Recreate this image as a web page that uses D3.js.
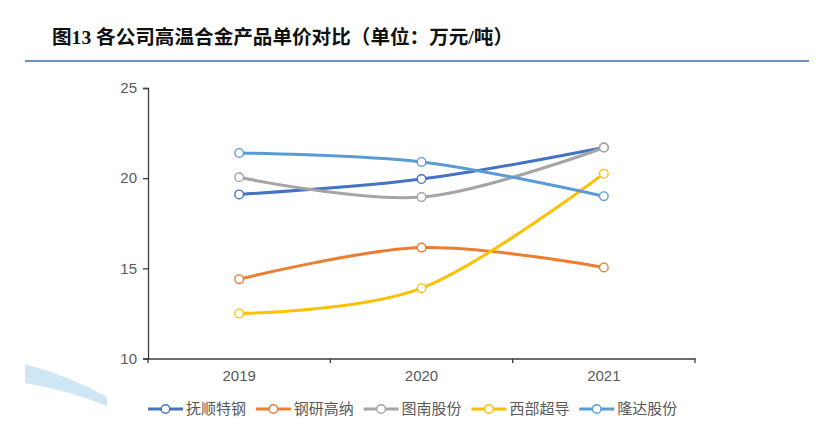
<!DOCTYPE html>
<html>
<head>
<meta charset="utf-8">
<script src="https://cdn.jsdelivr.net/npm/d3@7"></script>
<style>
  body { margin: 0; background: #fff; }
  svg { display: block; }
</style>
</head>
<body>
<script>
// chart data
var years = ["2019", "2020", "2021"];
var companies = ["抚顺特钢", "钢研高纳", "图南股份", "西部超导", "隆达股份"];
var fushun = [19.1, 19.95, 21.7];
var gangyan = [14.4, 16.15, 15.05];
var tunan = [20.05, 18.95, 21.7];
var xibu = [12.5, 13.9, 20.25];
var longda = [21.4, 20.9, 19.0];
var yTicks = [10, 15, 20, 25];
var colors = ["#4472C4", "#ED7D31", "#A5A5A5", "#FFC000", "#5B9BD5"];

var series = [fushun, gangyan, tunan, xibu, longda].map(function(v, i) {
  return {name: companies[i], color: colors[i], values: v};
});

var W = 831, H = 444;
var svg = d3.select("body").append("svg")
    .attr("width", W)
    .attr("height", H);

// faint swoosh in the lower left corner (background decoration)
svg.append("path")
    .attr("d", "M25,364 Q70,376 107,397 L107,406 Q70,391 25,383 Z")
    .attr("fill", "#cfe7f5");

// title + rule
svg.append("text")
    .attr("x", 52)
    .attr("y", 44)
    .style("font-family", "'Liberation Serif', 'Noto Sans CJK SC', serif")
    .style("font-weight", "bold")
    .style("font-size", "19.6px")
    .attr("fill", "#111")
    .text("图13 各公司高温合金产品单价对比（单位：万元/吨）");

svg.append("line")
    .attr("x1", 25).attr("x2", 809)
    .attr("y1", 61).attr("y2", 61)
    .attr("stroke", "#6f8fc0")
    .attr("stroke-width", 2);

// scales
var x = d3.scaleBand().domain(years).range([148, 695]);
var y = d3.scaleLinear().domain([10, 25]).range([358.5, 88]);
var cx = function(d) { return x(d) + x.bandwidth() / 2; };

var axisColor = "#3c3c3c";
var labelColor = "#595959";

// y axis
var yAxis = svg.append("g")
    .attr("transform", "translate(148,0)")
    .call(d3.axisLeft(y).tickValues(yTicks).tickSize(5).tickPadding(6));
yAxis.select(".domain").attr("stroke", axisColor).attr("stroke-width", 1.3);
yAxis.selectAll(".tick line").attr("stroke", axisColor).attr("stroke-width", 1.3);
yAxis.selectAll(".tick text")
    .attr("fill", labelColor)
    .style("font-family", "'Liberation Sans', Arial, sans-serif")
    .style("font-size", "15px");

// x axis, labels centred in bands, ticks on band edges
var xAxis = svg.append("g")
    .attr("transform", "translate(0," + y(10) + ")")
    .call(d3.axisBottom(x).tickSize(0).tickPadding(12).tickSizeOuter(0));
xAxis.select(".domain").attr("stroke", axisColor).attr("stroke-width", 1.3);
xAxis.selectAll(".tick text")
    .attr("fill", labelColor)
    .style("font-family", "'Liberation Sans', Arial, sans-serif")
    .style("font-size", "15px");

var edges = years.map(function(d) { return x(d); }).concat([x.range()[1]]);
xAxis.selectAll(".edge")
    .data(edges)
  .enter().append("line")
    .attr("class", "edge")
    .attr("x1", function(d) { return d; })
    .attr("x2", function(d) { return d; })
    .attr("y1", 0).attr("y2", 4.5)
    .attr("stroke", axisColor)
    .attr("stroke-width", 1.3);

// lines
var line = d3.line()
    .curve(d3.curveCardinal.tension(0))
    .x(function(d, i) { return cx(years[i]); })
    .y(function(d) { return y(d); });

var g = svg.append("g");
g.selectAll(".line")
    .data(series)
  .enter().append("path")
    .attr("class", "line")
    .attr("fill", "none")
    .attr("stroke", function(d) { return d.color; })
    .attr("stroke-width", 3)
    .attr("d", function(d) { return line(d.values); });

series.forEach(function(s) {
  g.selectAll(null)
      .data(s.values)
    .enter().append("circle")
      .attr("cx", function(d, i) { return cx(years[i]); })
      .attr("cy", function(d) { return y(d); })
      .attr("r", 4.3)
      .attr("fill", "#fff")
      .attr("stroke", s.color)
      .attr("stroke-width", 1.4);
});

// legend
var legend = svg.append("g").attr("transform", "translate(148,409)");
var item = legend.selectAll(".item")
    .data(series)
  .enter().append("g")
    .attr("class", "item")
    .attr("transform", function(d, i) { return "translate(" + (i * 107.8) + ",0)"; });
item.append("line")
    .attr("x1", 0).attr("x2", 35)
    .attr("stroke", function(d) { return d.color; })
    .attr("stroke-width", 3);
item.append("circle")
    .attr("cx", 17.5)
    .attr("r", 4.3)
    .attr("fill", "#fff")
    .attr("stroke", function(d) { return d.color; })
    .attr("stroke-width", 1.4);
item.append("text")
    .attr("x", 38)
    .attr("dy", "0.36em")
    .attr("fill", labelColor)
    .style("font-family", "'Noto Sans CJK SC', sans-serif")
    .style("font-size", "15px")
    .text(function(d) { return d.name; });
</script>
</body>
</html>
